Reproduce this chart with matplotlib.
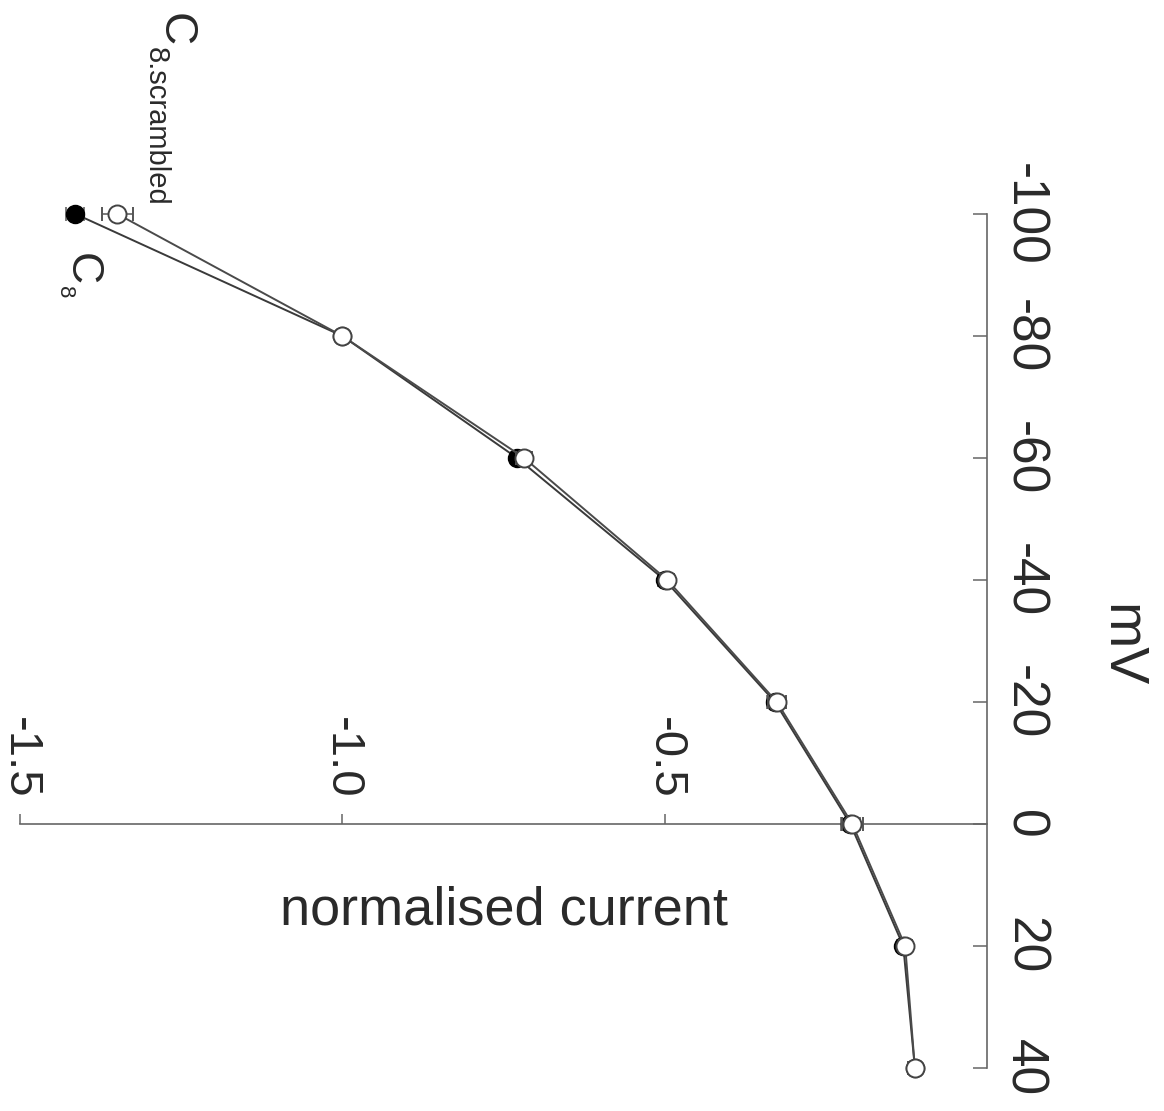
import matplotlib.pyplot as plt

plt.rcParams['font.family'] = ['Liberation Sans', 'DejaVu Sans']

# membrane potential (mV) and normalised current
mv = [-100, -80, -60, -40, -20, 0, 20, 40]
c8 = [-1.414, -1.0, -0.729, -0.500, -0.329, -0.212, -0.130, -0.112]
c8_err = [0.014, 0.008, 0.010, 0.010, 0.012, 0.015, 0.010, 0.010]
c8_scr = [-1.349, -1.0, -0.718, -0.496, -0.326, -0.209, -0.127, -0.112]
c8_scr_err = [0.024, 0.008, 0.012, 0.010, 0.014, 0.016, 0.010, 0.010]

mv_ticks = [-100, -80, -60, -40, -20, 0, 20, 40]
cur_ticks = [-1.5, -1.0, -0.5]
cur_ticklabels = ['-1.5', '-1.0', '-0.5']

fig = plt.figure(figsize=(11.64, 11.11), dpi=100)
ax = fig.add_axes([0, 0, 1, 1])

# figure is drawn rotated: current runs left-right, mV runs top-down
ax.errorbar(c8, mv, xerr=c8_err, fmt='o-', color='#3a3a3a', lw=1.4,
            ms=13, mfc='black', mec='black', ecolor='#555555',
            elinewidth=1.1, capsize=5, capthick=1.1, zorder=3)
ax.errorbar(c8_scr, mv, xerr=c8_scr_err, fmt='o-', color='#4a4a4a', lw=1.4,
            ms=13, mfc='white', mec='#444444', mew=1.4, ecolor='#555555',
            elinewidth=1.1, capsize=5, capthick=1.1, zorder=4)

ax.set_xlim(-1.531, 0.2744)
ax.set_ylim(47.05, -135.08)

for s in ['left', 'bottom']:
    ax.spines[s].set_visible(False)
ax.spines['right'].set_position(('data', 0))
ax.spines['right'].set_bounds(-100, 40)
ax.spines['top'].set_position(('data', 0))
ax.spines['top'].set_bounds(-1.5, 0)
for s in ['right', 'top']:
    ax.spines[s].set_color('#666666')
    ax.spines[s].set_linewidth(1.2)

ax.yaxis.set_ticks_position('right')
ax.set_yticks(mv_ticks)
ax.set_yticklabels([str(v) for v in mv_ticks])
ax.tick_params(axis='y', direction='in', length=10, width=1.1, color='#666666',
               pad=9, labelsize=37, labelrotation=-90, labelcolor='#2a2a2a')
plt.setp(ax.get_yticklabels(), va='center')

ax.xaxis.set_ticks_position('top')
ax.set_xticks(cur_ticks)
ax.set_xticklabels(cur_ticklabels)
ax.tick_params(axis='x', direction='out', length=7, width=1.1, color='#666666',
               pad=11, labelsize=34, labelrotation=-90, labelcolor='#2a2a2a')
plt.setp(ax.get_xticklabels(), ha='center')

ax.text(0.207, -29.3, 'mV', rotation=-90, fontsize=40, color='#2a2a2a',
        ha='center', va='center')
ax.text(-0.75, 14.1, 'normalised current', fontsize=39, color='#2a2a2a',
        ha='center', va='center')

# series labels
ax.text(-1.26, -130.3, 'C', rotation=-90, fontsize=33, color='#2a2a2a',
        ha='center', va='center')
ax.text(-1.29, -114.3, '8.scrambled', rotation=-90, fontsize=21,
        color='#2a2a2a', ha='center', va='center')
ax.text(-1.405, -91.0, 'C', rotation=-90, fontsize=32, color='#2a2a2a',
        ha='center', va='center')
ax.text(-1.431, -87.2, '8', rotation=-90, fontsize=16, color='#2a2a2a',
        ha='center', va='center')

fig.savefig('out.png', dpi=100, facecolor='white')
